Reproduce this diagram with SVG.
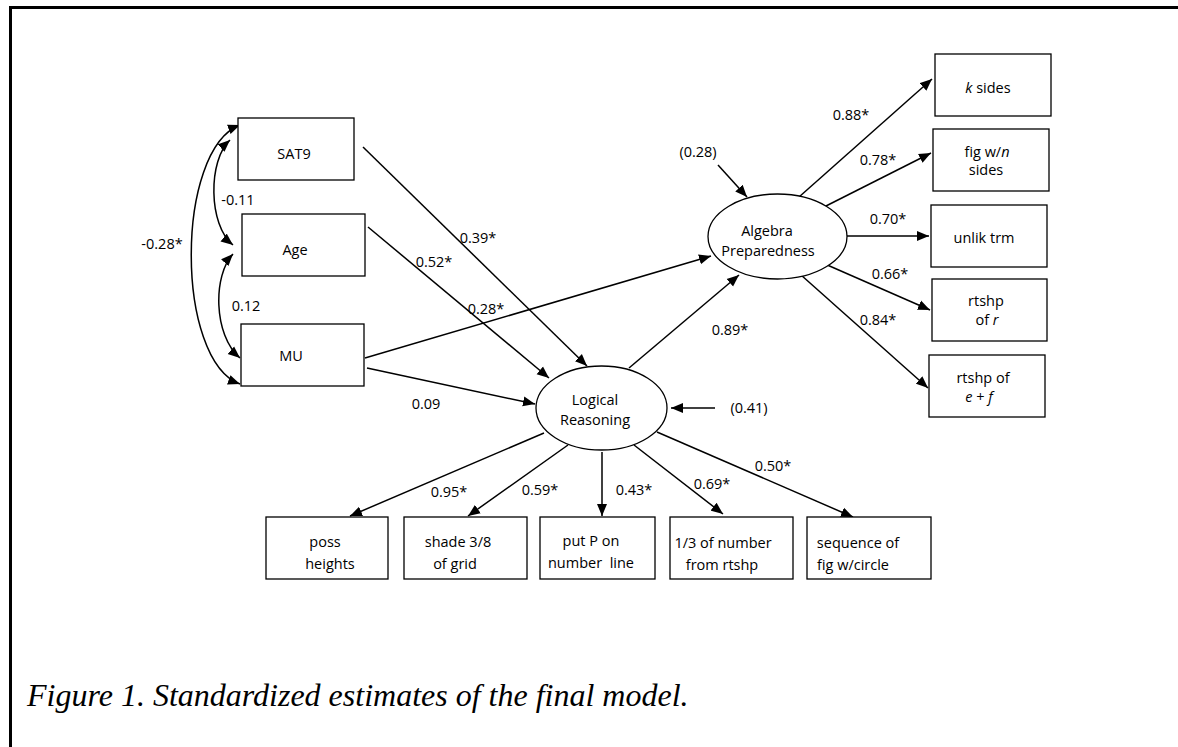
<svg xmlns="http://www.w3.org/2000/svg" width="1178" height="747" viewBox="0 0 1178 747">
<style>
.box{fill:#fff;stroke:#000;stroke-width:1.3}
.ell{fill:#fff;stroke:#000;stroke-width:1.3}
.t{font-family:"Open Sans","Liberation Sans",sans-serif;font-size:14.5px;fill:#000;text-anchor:middle;dominant-baseline:central}
.lbl{font-family:"Open Sans","Liberation Sans",sans-serif;font-size:14.5px;fill:#000;text-anchor:middle;dominant-baseline:central}
.c{fill:none;stroke:#000;stroke-width:1.5;marker-end:url(#ah)}
.cc{fill:none;stroke:#000;stroke-width:1.5;marker-end:url(#ah);marker-start:url(#ahs)}
.cap{font-family:"Liberation Serif","Times New Roman",serif;font-style:italic;font-size:32px;fill:#000}
</style>
<defs>
<marker id="ah" markerUnits="userSpaceOnUse" markerWidth="13" markerHeight="11" refX="12" refY="5.5" orient="auto">
<path d="M0,0.5 L12,5.5 L0,10.5 z" fill="#000"/>
</marker>
<marker id="ahs" markerUnits="userSpaceOnUse" markerWidth="13" markerHeight="11" refX="12" refY="5.5" orient="auto-start-reverse">
<path d="M0,0.5 L12,5.5 L0,10.5 z" fill="#000"/>
</marker>
</defs>
<rect width="1178" height="747" fill="#fff"/>
<path d="M10.5,747 V7.5 H1178" fill="none" stroke="#000" stroke-width="3"/>

<g id="connectors">
<path class="cc" d="M240,125 C175,150 175,360 240,384"/>
<path class="cc" d="M230,140 C208,160 208,225 233,245"/>
<path class="cc" d="M233,254 C213,275 213,335 240,358"/>
<path class="c" d="M363,147 L587,366"/>
<path class="c" d="M368,227 L549,378"/>
<path class="c" d="M365,358 L711,256"/>
<path class="c" d="M367,368 L535,404"/>
<path class="c" d="M629,368 L739,275"/>
<path class="c" d="M715,408 L671,408"/>
<path class="c" d="M718,165 L747,197"/>
<path class="c" d="M799,197 L932,79"/>
<path class="c" d="M822,208 L931,153"/>
<path class="c" d="M844,236 L929,236"/>
<path class="c" d="M825,264 L930,310"/>
<path class="c" d="M801,275 L928,388"/>
<path class="c" d="M544,433 L350,516"/>
<path class="c" d="M568,445 L468,516"/>
<path class="c" d="M602,452 L602,516"/>
<path class="c" d="M634,445 L723,514"/>
<path class="c" d="M657,432 L853,517"/>
</g>

<g id="labels">
<text class="lbl" x="162" y="243">-0.28*</text>
<text class="lbl" x="238" y="199">-0.11</text>
<text class="lbl" x="246" y="305">0.12</text>
<text class="lbl" x="478" y="237">0.39*</text>
<text class="lbl" x="434" y="261">0.52*</text>
<text class="lbl" x="486" y="308">0.28*</text>
<text class="lbl" x="730" y="329">0.89*</text>
<text class="lbl" x="426" y="403">0.09</text>
<text class="lbl" x="851" y="114">0.88*</text>
<text class="lbl" x="878" y="159">0.78*</text>
<text class="lbl" x="888" y="218">0.70*</text>
<text class="lbl" x="890" y="273">0.66*</text>
<text class="lbl" x="878" y="319">0.84*</text>
<text class="lbl" x="449" y="491">0.95*</text>
<text class="lbl" x="540" y="489">0.59*</text>
<text class="lbl" x="634" y="489">0.43*</text>
<text class="lbl" x="712" y="483">0.69*</text>
<text class="lbl" x="773" y="465">0.50*</text>
<text class="lbl" x="698" y="151">(0.28)</text>
<text class="lbl" x="749" y="407">(0.41)</text>
</g>

<g id="SAT9"><rect class="box" x="238" y="118" width="116" height="62"/><text class="t" x="294" y="153">SAT9</text></g>
<g id="Age"><rect class="box" x="242" y="214" width="123" height="62"/><text class="t" x="295" y="249">Age</text></g>
<g id="MU"><rect class="box" x="241" y="324" width="123" height="62"/><text class="t" x="291" y="355">MU</text></g>

<g id="AlgebraPreparedness"><ellipse class="ell" cx="777.5" cy="236.5" rx="69.5" ry="42.5"/><text class="t" x="767" y="230">Algebra</text><text class="t" x="768" y="250">Preparedness</text></g>
<g id="LogicalReasoning"><ellipse class="ell" cx="601.5" cy="408" rx="65.5" ry="42"/><text class="t" x="595" y="399">Logical</text><text class="t" x="595" y="419">Reasoning</text></g>

<g id="ksides"><rect class="box" x="935" y="54" width="116" height="62"/><text class="t" x="988" y="87"><tspan font-style="italic">k</tspan> sides</text></g>
<g id="figwn"><rect class="box" x="933" y="129" width="116" height="62"/><text class="t" x="987" y="151">fig w/<tspan font-style="italic">n</tspan></text><text class="t" x="986" y="169">sides</text></g>
<g id="unliktrm"><rect class="box" x="931" y="205" width="116" height="62"/><text class="t" x="984" y="237">unlik trm</text></g>
<g id="rtshpr"><rect class="box" x="932" y="279" width="115" height="62"/><text class="t" x="986" y="300">rtshp</text><text class="t" x="987" y="319">of <tspan font-style="italic">r</tspan></text></g>
<g id="rtshpef"><rect class="box" x="929" y="355" width="116" height="62"/><text class="t" x="983" y="377">rtshp of</text><text class="t" x="979" y="396"><tspan font-style="italic">e</tspan> + <tspan font-style="italic">f</tspan></text></g>

<g id="possheights"><rect class="box" x="266" y="517" width="122" height="62"/><text class="t" x="325" y="541">poss</text><text class="t" x="330" y="563">heights</text></g>
<g id="shade"><rect class="box" x="404" y="517" width="123" height="62"/><text class="t" x="458" y="541">shade 3/8</text><text class="t" x="455" y="563">of grid</text></g>
<g id="putP"><rect class="box" x="540" y="517" width="115" height="62"/><text class="t" x="591" y="540">put P on</text><text class="t" x="591" y="562" xml:space="preserve">number  line</text></g>
<g id="onethird"><rect class="box" x="670" y="517" width="123" height="62"/><text class="t" x="723" y="542">1/3 of number</text><text class="t" x="722" y="564">from rtshp</text></g>
<g id="sequence"><rect class="box" x="807" y="517" width="124" height="62"/><text class="t" x="858" y="542">sequence of</text><text class="t" x="853" y="564">fig w/circle</text></g>

<text class="cap" x="27" y="706">Figure 1. Standardized estimates of the final model.</text>
</svg>
